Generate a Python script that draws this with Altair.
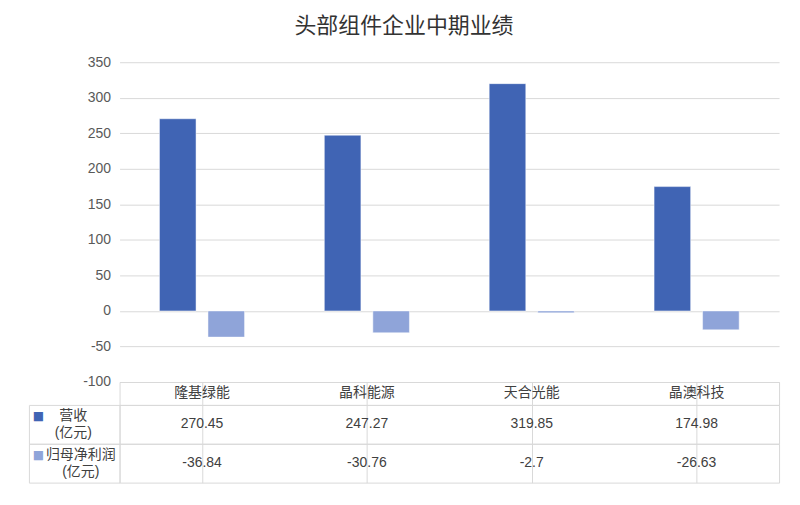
import altair as alt
import pandas as pd

# ---- data ----
title_text = "头部组件企业中期业绩"
companies = ["隆基绿能", "晶科能源", "天合光能", "晶澳科技"]
series = ["营收", "归母净利润"]
revenue = [270.45, 247.27, 319.85, 174.98]
profit = [-36.84, -30.76, -2.7, -26.63]
row_labels = ["营收\n(亿元)", "归母净利润\n(亿元)"]
y_ticks = [-100, -50, 0, 50, 100, 150, 200, 250, 300, 350]

# ---- styles ----
colors = ["#4064B4", "#8FA4D9"]
grid_col = "#D9D9D9"
text_col = "#404040"
axis_col = "#595959"
cjk = "Noto Sans CJK SC"
latin = "Liberation Sans"

bars_df = pd.DataFrame({
    "company": companies * 2,
    "series": [series[0]] * len(companies) + [series[1]] * len(companies),
    "value": revenue + profit,
})

band = alt.Scale(paddingInner=0, paddingOuter=0)

bars = alt.Chart(bars_df).mark_bar(stroke="white", strokeWidth=0.8, strokeOpacity=0.6).encode(
    x=alt.X("company:N", sort=companies, scale=band, axis=None),
    xOffset=alt.XOffset("series:N", sort=series,
                        scale=alt.Scale(paddingInner=0.246, paddingOuter=0.822)),
    y=alt.Y("value:Q",
            scale=alt.Scale(domain=[y_ticks[0], y_ticks[-1]], nice=False, zero=False),
            axis=alt.Axis(values=y_ticks, title=None, domain=False, ticks=False,
                          labelExpr="datum.value + ''",
                          labelPadding=9, labelFontSize=14, labelColor=axis_col,
                          labelFont=latin, gridColor=grid_col, gridWidth=1)),
    color=alt.Color("series:N", sort=series,
                    scale=alt.Scale(domain=series, range=colors), legend=None),
).properties(width=662, height=321, view=alt.ViewBackground(stroke="transparent"))

grid_x = alt.X("company:N", sort=companies, scale=band,
               axis=alt.Axis(title=None, labels=False, ticks=False, domain=False,
                             grid=True, bandPosition=0, gridColor=grid_col, gridWidth=1))

cell_view = alt.ViewBackground(stroke=grid_col, strokeWidth=1)

header = alt.Chart(pd.DataFrame({"company": companies})).mark_text(
    fontSize=14, font=cjk, color=text_col
).encode(x=grid_x, text="company:N").properties(width=662, height=23, view=cell_view)


def value_row(vals):
    df = pd.DataFrame({"company": companies, "label": [str(v) for v in vals]})
    return alt.Chart(df).mark_text(fontSize=14, font=latin, color=text_col).encode(
        x=grid_x, text="label:N"
    ).properties(width=662, height=39, view=cell_view)


def label_cell(label, color, dx):
    df = pd.DataFrame({"label": [label], "key": ["■"]})
    txt = alt.Chart(df).mark_text(
        fontSize=14, font=f"{latin}, {cjk}", color=text_col, lineBreak="\n",
        lineHeight=17, dx=dx, dy=-8.5
    ).encode(text="label:N")
    key = alt.Chart(df).mark_text(
        fontSize=12, font="DejaVu Sans", color=color, dx=-36, dy=-8.5
    ).encode(text="key:N")
    return alt.layer(txt, key).properties(width=91, height=39, view=cell_view)


def blank(h):
    return alt.Chart(pd.DataFrame({"t": [""]})).mark_text().encode(text="t:N").properties(
        width=91, height=h, view=alt.ViewBackground(stroke="transparent"))


chart = alt.concat(
    blank(321), bars,
    blank(23), header,
    label_cell(row_labels[0], colors[0], -1), value_row(revenue),
    label_cell(row_labels[1], colors[1], 6.5), value_row(profit),
    columns=2, spacing=0, bounds="flush",
).properties(
    title=alt.TitleParams(title_text, fontSize=22, font=cjk, fontWeight="normal",
                          color="#333333", anchor="middle", offset=16.5),
    padding={"left": 20, "top": 6.5, "right": 12, "bottom": 10},
).configure_view(stroke="transparent")

chart.save("out.html", embed_options={"renderer": "svg", "actions": False})
